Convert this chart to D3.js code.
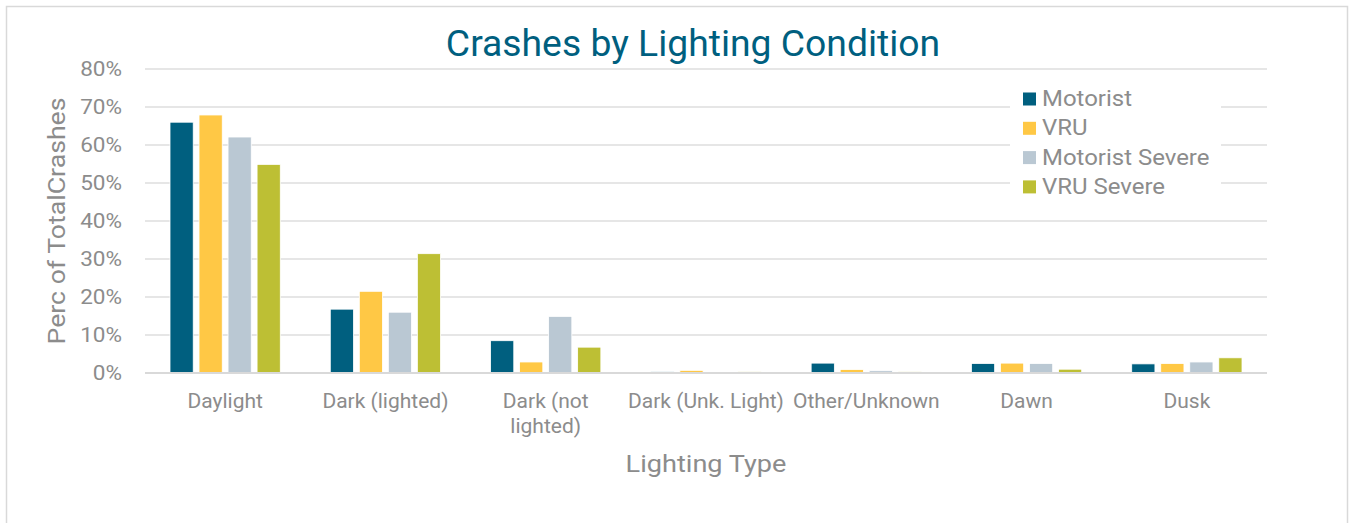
<!DOCTYPE html>
<html><head><meta charset="utf-8">
<script src="https://cdn.jsdelivr.net/npm/d3@7"></script>
<style>body{margin:0;background:#fff;}svg{display:block;font-family:Roboto,"Noto Sans",sans-serif;}</style>
</head><body><svg id="c" width="1351" height="523"></svg>
<script>
const categories = ["Daylight","Dark (lighted)","Dark (not lighted)","Dark (Unk. Light)","Other/Unknown","Dawn","Dusk"];
const seriesNames = ["Motorist","VRU","Motorist Severe","VRU Severe"];
const motorist = [0.660,0.168,0.085,0.003,0.026,0.025,0.024];
const vru = [0.679,0.215,0.029,0.007,0.009,0.026,0.025];
const motoristSevere = [0.621,0.160,0.149,0.000,0.006,0.025,0.029];
const vruSevere = [0.549,0.314,0.068,0.003,0.003,0.010,0.040];
const colors = ["#005F7F","#FFC845","#BAC8D3","#BDBF34"];
const yTicks = [0,0.1,0.2,0.3,0.4,0.5,0.6,0.7,0.8];
const seriesValues = [motorist, vru, motoristSevere, vruSevere];

(function(){
const svg = d3.select("#c");
const textCol = "#8c8c8c";
svg.append("rect").attr("x",6.5).attr("y",6.5).attr("width",1341).attr("height",530)
  .attr("fill","#fff").attr("stroke","#d9d9d9").attr("stroke-width",1.5);

const pl=145, pr=1267, pt=69, pb=373;
const x = d3.scaleBand().domain(categories).range([pl,pr]);
const y = d3.scaleLinear().domain([0,0.8]).range([pb,pt]);
const x1 = d3.scaleBand().domain(seriesNames).range([25, x.bandwidth()-25]).paddingInner(0.2);

svg.append("g").selectAll("line").data(yTicks).join("line")
  .attr("x1",pl).attr("x2",pr).attr("y1",d=>y(d)).attr("y2",d=>y(d))
  .attr("stroke","#dedede").attr("stroke-width",1.5);

const yAxis = d3.axisLeft(y).tickValues(yTicks).tickFormat(d3.format(".0%")).tickSize(0).tickPadding(0);
const yg = svg.append("g").attr("transform",`translate(122,0)`).call(yAxis);
yg.select(".domain").remove();
yg.selectAll("text").attr("fill",textCol).attr("x",0).attr("dy","0.34em")
  .attr("transform","scale(1.1,1)")
  .style("font-size","20.5px").style("font-family","Roboto");

const groups = svg.append("g").selectAll("g").data(categories).join("g")
  .attr("transform",d=>`translate(${x(d)},0)`);
groups.selectAll("rect").data((c,i)=>seriesNames.map((s,j)=>({s,j,v:seriesValues[j][i]}))).join("rect")
  .attr("x",d=>x1(d.s)).attr("width",x1.bandwidth())
  .attr("y",d=>y(d.v)).attr("height",d=>pb-y(d.v))
  .attr("fill",d=>colors[d.j]).attr("stroke","#fff").attr("stroke-width",0.8);

const xAxis = d3.axisBottom(x).tickSize(0).tickPadding(0);
const xg = svg.append("g").attr("transform",`translate(0,${pb})`).call(xAxis);
xg.select(".domain").remove();
xg.selectAll("text").remove();
xg.selectAll(".tick").each(function(d){
  const lines = d==="Dark (not lighted)" ? ["Dark (not","lighted)"] : [d];
  const t = d3.select(this).append("text").attr("fill",textCol).attr("text-anchor","middle")
    .attr("transform","scale(1.05,1)")
    .style("font-size","20px").style("font-family","Roboto");
  lines.forEach((l,i)=>t.append("tspan").attr("x",0).attr("y",35+i*25).text(l));
});

svg.append("line").attr("x1",pl).attr("x2",pr).attr("y1",pb).attr("y2",pb)
  .attr("stroke","#d9d9d9").attr("stroke-width",2);

svg.append("text").attr("x",693).attr("y",56).attr("text-anchor","middle")
  .attr("fill","#005F7F").style("font-size","37.3px").text("Crashes by Lighting Condition");

svg.append("text").attr("transform","translate(65,221) rotate(-90) scale(1.16,1)").attr("text-anchor","middle")
  .attr("fill",textCol).style("font-size","23px").text("Perc of TotalCrashes");
svg.append("text").attr("transform","translate(706,472) scale(1.13,1)").attr("text-anchor","middle")
  .attr("fill",textCol).style("font-size","24px").text("Lighting Type");

const lg = svg.append("g");
lg.append("rect").attr("x",1010).attr("y",80).attr("width",211).attr("height",120).attr("fill","#fff");
const items = lg.selectAll("g").data(seriesNames).join("g")
  .attr("transform",(d,i)=>`translate(1023,${99+i*29.3})`);
items.append("rect").attr("x",0).attr("y",-6.5).attr("width",13).attr("height",13).attr("fill",(d,i)=>colors[i]);
items.append("text").attr("transform","translate(19,7) scale(1.065,1)").attr("fill",textCol).style("font-size","22.5px").text(d=>d);
})();
</script></body></html>
